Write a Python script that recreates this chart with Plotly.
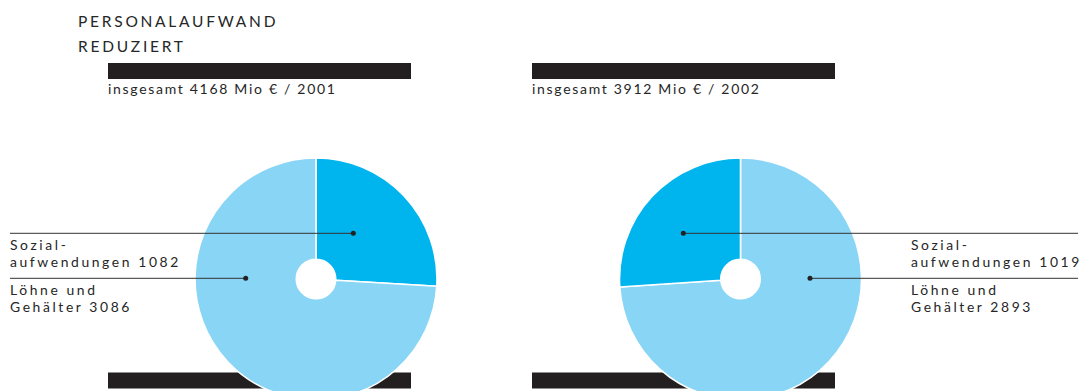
import plotly.graph_objects as go

# ---------------- data ----------------
title_lines = ["PERSONALAUFWAND", "REDUZIERT"]
years = ["2001", "2002"]
totals = [4168, 3912]
categories = ["Sozialaufwendungen", "Löhne und Gehälter"]
sozial = [1082, 1019]
loehne = [3086, 2893]

# ---------------- styling / layout ----------------
W, H = 1087, 400
DARK = "#00b5ee"
LIGHT = "#89d5f6"
INK = "#231f20"
TXT = "#262626"
FONT = "Lato"

centers = [(316, 279), (740.5, 279)]
R = 121
# left pie: Sozial first, clockwise from 12 o'clock
# right pie: Löhne first, clockwise, so Sozial sits left of 12 o'clock
orders = [[0, 1], [1, 0]]


def px(x):
    return x / W


def py(y):
    return 1 - y / H


fig = go.Figure()
for i in range(2):
    cx, cy = centers[i]
    vals = [sozial[i], loehne[i]]
    cols = [DARK, LIGHT]
    o = orders[i]
    fig.add_trace(go.Pie(
        values=[vals[k] for k in o],
        labels=[categories[k] for k in o],
        sort=False,
        direction="clockwise",
        rotation=0,
        hole=0.163,
        textinfo="none",
        hoverinfo="none",
        showlegend=False,
        marker=dict(colors=[cols[k] for k in o], line=dict(color="white", width=1.6)),
        domain=dict(x=[px(cx - R), px(cx + R)], y=[py(cy + R), py(cy - R)]),
    ))

shapes = []
annotations = []

# black bars
bar_x = [(108, 411), (532, 835)]
for x0, x1 in bar_x:
    for y0, y1 in [(63, 79), (372.5, 388.5)]:
        shapes.append(dict(type="rect", xref="paper", yref="paper",
                           x0=px(x0), x1=px(x1), y0=py(y1), y1=py(y0),
                           fillcolor=INK, line=dict(width=0), layer="below"))


def ann(text, x, y, size, yanchor="middle"):
    annotations.append(dict(text=text, x=px(x), y=py(y), xref="paper", yref="paper",
                            xanchor="left", yanchor=yanchor, align="left",
                            showarrow=False, borderpad=0, borderwidth=0,
                            font=dict(family=FONT, size=size, color=TXT)))


# title
ann(title_lines[0], 78, 20.7, 15.5)
ann(title_lines[1], 78, 45.7, 15.5)

# headers
for i in range(2):
    ann(f"insgesamt {totals[i]} Mio € / {years[i]}", bar_x[i][0], 88.9, 14)

# leader lines + dots
line_y = [233.3, 278.3]
leaders = [
    [(10, 353.3), (10, 245.7)],
    [(683.3, 1078), (810, 1078)],
]
dots = [[353.3, 245.7], [683.3, 810]]
for i in range(2):
    for k in range(2):
        x0, x1 = leaders[i][k]
        shapes.append(dict(type="line", xref="paper", yref="paper",
                           x0=px(x0), x1=px(x1), y0=py(line_y[k]), y1=py(line_y[k]),
                           line=dict(color="#333333", width=1)))
        d = dots[i][k]
        shapes.append(dict(type="circle", xref="paper", yref="paper",
                           x0=px(d - 2.5), x1=px(d + 2.5),
                           y0=py(line_y[k] + 2.5), y1=py(line_y[k] - 2.5),
                           fillcolor="#222222", line=dict(width=0)))

label_x = [10, 911]
for i in range(2):
    ann(f"Sozial-<br>aufwendungen {sozial[i]}", label_x[i], 236.4, 13.9, "top")
    ann(f"Löhne und<br>Gehälter {loehne[i]}", label_x[i], 281.4, 13.9, "top")

fig.update_layout(
    width=W, height=H,
    margin=dict(l=0, r=0, t=0, b=0),
    paper_bgcolor="white", plot_bgcolor="white",
    shapes=shapes, annotations=annotations,
)

post = """
var gd = document.getElementById('{plot_id}');
document.documentElement.style.overflow = 'hidden';
document.body.style.overflow = 'hidden';
document.body.style.margin = '0';
gd.querySelectorAll('.annotation-text').forEach(function(t){
  var s = t.textContent;
  if (s === 'PERSONALAUFWAND' || s === 'REDUZIERT') { t.style.letterSpacing = '2.75px'; }
  else if (s.indexOf('insgesamt') === 0) { t.style.letterSpacing = '1.7px'; }
  else {
    t.style.letterSpacing = '2.6px';
    t.querySelectorAll('tspan.line').forEach(function(l){
      var dy = parseFloat(l.getAttribute('dy') || '0');
      l.setAttribute('dy', (dy / 1.3 * 1.2) + 'em');
    });
  }
});
"""

fig.write_html("out.html", post_script=post, config={"displayModeBar": False, "staticPlot": True})
